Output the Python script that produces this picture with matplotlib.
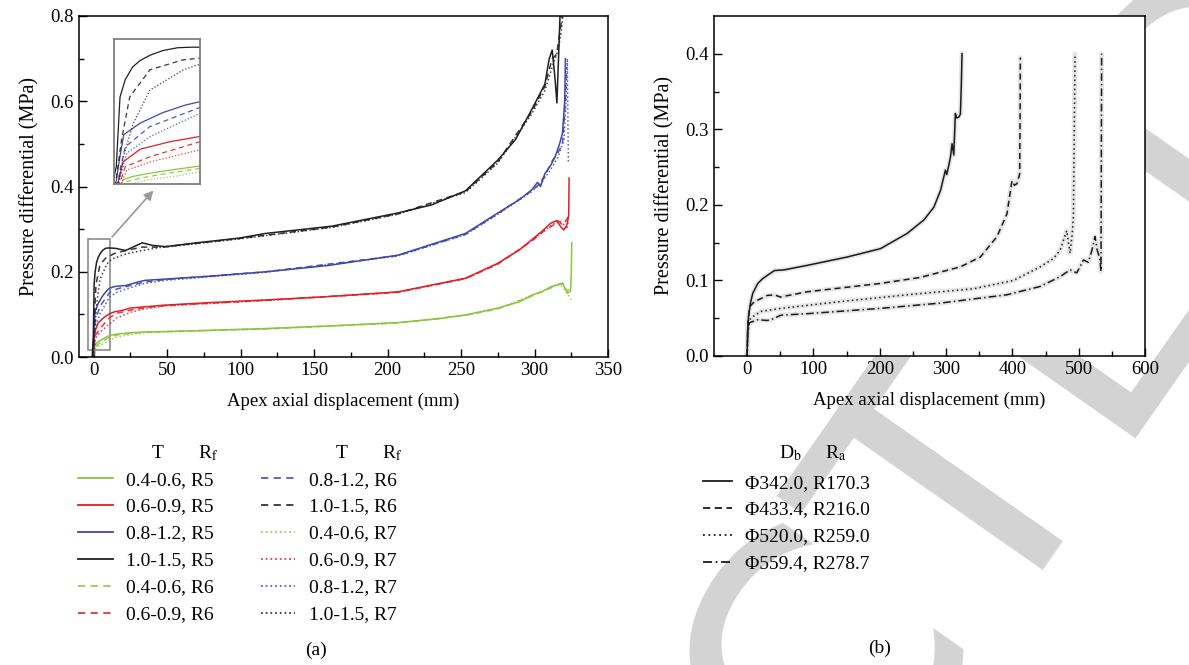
import matplotlib
matplotlib.use("Agg")
import matplotlib.pyplot as plt
from matplotlib.lines import Line2D
from matplotlib.patches import Rectangle

plt.rcParams['font.family'] = ['Liberation Serif', 'DejaVu Serif']
plt.rcParams['font.size'] = 13
plt.rcParams['mathtext.fontset'] = 'stix'

## DADOS (a) ##
green_r5_x = [-0.5, 0.2, 0.7, 2, 4, 7, 11, 16, 25, 35, 50, 80, 117, 160, 207, 235, 253, 275, 290, 298, 306, 311, 316, 319, 321, 322.5, 324.5, 325, 325.3]
green_r5_y = [0, 0.012, 0.027, 0.033, 0.038, 0.044, 0.051, 0.054, 0.057, 0.059, 0.06, 0.063, 0.067, 0.073, 0.081, 0.09, 0.099, 0.115, 0.13, 0.145, 0.155, 0.165, 0.17, 0.174, 0.16, 0.15, 0.155, 0.2, 0.268]
green_r6_x = [-0.3, 0.4, 1.2, 3, 6, 11, 16, 25, 35, 50, 117, 207, 253, 275, 298, 311, 318, 320, 322, 324, 325]
green_r6_y = [0, 0.012, 0.024, 0.03, 0.037, 0.047, 0.052, 0.056, 0.058, 0.06, 0.066, 0.08, 0.098, 0.113, 0.143, 0.162, 0.172, 0.165, 0.155, 0.16, 0.17]
green_r7_x = [-0.2, 0.6, 1.5, 4, 8, 11, 16, 25, 35, 50, 117, 207, 253, 275, 298, 311, 317, 320, 322, 324, 325]
green_r7_y = [0, 0.01, 0.02, 0.027, 0.034, 0.041, 0.047, 0.053, 0.057, 0.059, 0.066, 0.08, 0.098, 0.114, 0.144, 0.163, 0.172, 0.16, 0.15, 0.14, 0.134]

red_r5_x = [-0.5, 0.2, 0.7, 3, 7, 11, 14, 20, 25, 35, 49, 80, 117, 160, 207, 253, 275, 290, 298, 305, 311, 315, 318, 320, 322, 323.2, 323.5]
red_r5_y = [0, 0.03, 0.058, 0.08, 0.093, 0.102, 0.106, 0.11, 0.115, 0.118, 0.122, 0.128, 0.134, 0.142, 0.153, 0.185, 0.22, 0.252, 0.275, 0.295, 0.314, 0.32, 0.305, 0.298, 0.31, 0.33, 0.42]
red_r6_x = [-0.3, 0.5, 1, 4.3, 11, 16, 25, 35, 49, 117, 207, 253, 275, 298, 308, 313, 316, 319, 321, 323]
red_r6_y = [0, 0.03, 0.05, 0.067, 0.093, 0.103, 0.11, 0.116, 0.121, 0.133, 0.152, 0.184, 0.218, 0.272, 0.3, 0.31, 0.32, 0.31, 0.318, 0.33]
red_r7_x = [-0.2, 0.6, 1.2, 4.3, 11, 16, 25, 35, 49, 117, 207, 253, 275, 298, 308, 314, 317, 320, 322, 323]
red_r7_y = [0, 0.025, 0.044, 0.058, 0.079, 0.092, 0.105, 0.113, 0.12, 0.133, 0.152, 0.184, 0.219, 0.273, 0.3, 0.315, 0.32, 0.31, 0.3, 0.32]

blue_r5_x = [-0.5, 0.2, 0.8, 3, 6, 9, 11, 15, 22, 30, 35, 49, 80, 117, 160, 207, 253, 275, 290, 298, 302, 304, 307, 311, 314, 317, 319, 320.5, 321]
blue_r5_y = [0, 0.06, 0.105, 0.125, 0.143, 0.156, 0.162, 0.166, 0.168, 0.176, 0.18, 0.183, 0.19, 0.2, 0.215, 0.239, 0.29, 0.338, 0.37, 0.392, 0.41, 0.4, 0.43, 0.45, 0.47, 0.5, 0.525, 0.6, 0.70]
blue_r6_x = [-0.3, 0.4, 1, 4.3, 11, 16, 25, 35, 49, 117, 207, 253, 275, 298, 303, 307, 312, 316, 319, 321, 321.5]
blue_r6_y = [0, 0.05, 0.084, 0.119, 0.152, 0.16, 0.168, 0.176, 0.182, 0.2, 0.238, 0.288, 0.336, 0.39, 0.405, 0.425, 0.46, 0.48, 0.5, 0.6, 0.68]
blue_r7_x = [-0.2, 0.5, 1.2, 4.3, 11, 16, 25, 35, 49, 117, 207, 253, 275, 298, 305, 311, 316, 320, 321.5, 322.3, 323]
blue_r7_y = [0, 0.04, 0.073, 0.1015, 0.142, 0.152, 0.163, 0.173, 0.18, 0.199, 0.237, 0.287, 0.335, 0.388, 0.41, 0.44, 0.47, 0.51, 0.6, 0.7, 0.455]

black_r5_x = [-1, -0.2, 0.3, 1, 2, 3, 4.3, 6, 8, 10, 15, 21.7, 28, 33, 40, 49, 70, 98.8, 117, 162, 207, 230, 253, 275, 287, 298, 307, 310, 312, 314, 315.2, 316.5, 317.5]
black_r5_y = [0, 0.05, 0.17, 0.2, 0.222, 0.233, 0.242, 0.25, 0.255, 0.256, 0.255, 0.25, 0.26, 0.268, 0.262, 0.259, 0.268, 0.279, 0.29, 0.307, 0.338, 0.357, 0.39, 0.462, 0.51, 0.58, 0.64, 0.70, 0.72, 0.65, 0.596, 0.72, 0.82]
black_r6_x = [-0.5, 0.5, 1.6, 4.3, 8.7, 11, 14, 22, 33, 45, 49, 98.8, 162, 207, 253, 275, 298, 307, 312, 315, 318, 319.5]
black_r6_y = [0, 0.096, 0.17, 0.217, 0.234, 0.237, 0.243, 0.25, 0.258, 0.258, 0.259, 0.278, 0.305, 0.336, 0.388, 0.458, 0.575, 0.635, 0.7, 0.71, 0.78, 0.82]
black_r7_x = [-0.3, 0.8, 2.1, 4.3, 8.8, 10.6, 14, 22, 33, 45, 49, 98.8, 162, 207, 253, 275, 298, 307, 312, 316, 318, 320]
black_r7_y = [0, 0.07, 0.125, 0.182, 0.217, 0.225, 0.232, 0.242, 0.25, 0.257, 0.258, 0.277, 0.304, 0.335, 0.386, 0.455, 0.57, 0.625, 0.68, 0.72, 0.76, 0.82]

t_labels = ['0.4-0.6', '0.6-0.9', '0.8-1.2', '1.0-1.5']
rf_labels = ['R5', 'R6', 'R7']

## DADOS (b) ##
d342_x = [0, 0.5, 2, 5, 8.5, 16, 23, 31, 41, 56, 91, 151, 201, 241, 266.5, 281.6, 291.6, 299, 301, 303.5, 306.6, 309, 311.6, 314, 316, 319, 321.6, 323, 324]
d342_y = [0, 0.03, 0.052, 0.07, 0.083, 0.096, 0.102, 0.107, 0.113, 0.114, 0.12, 0.131, 0.142, 0.162, 0.18, 0.197, 0.219, 0.246, 0.24, 0.25, 0.263, 0.281, 0.266, 0.321, 0.315, 0.316, 0.32, 0.36, 0.40]
d433_x = [0, 1, 3.5, 11, 21, 30, 41, 50, 91, 151, 201, 261.5, 321.6, 351.7, 376.8, 391.8, 399.4, 403, 406.9, 411, 411.5, 412]
d433_y = [0, 0.04, 0.065, 0.072, 0.076, 0.08, 0.081, 0.078, 0.085, 0.091, 0.096, 0.104, 0.118, 0.131, 0.158, 0.188, 0.232, 0.226, 0.228, 0.241, 0.3, 0.395]
d520_x = [0, 1, 3.5, 10, 21, 51, 141, 241.5, 341.7, 401.8, 442, 462, 472, 477, 482, 484.5, 487, 490, 492, 494.5]
d520_y = [0, 0.03, 0.048, 0.053, 0.059, 0.063, 0.072, 0.081, 0.089, 0.10, 0.118, 0.129, 0.14, 0.153, 0.166, 0.15, 0.136, 0.16, 0.184, 0.40]
d559_x = [0, 1, 3.5, 16, 30, 36, 51, 91, 201, 291.6, 391.8, 442, 472, 487, 497, 502, 507, 514.5, 520, 524.6, 528, 532, 533.6, 534.6]
d559_y = [0, 0.03, 0.044, 0.048, 0.047, 0.048, 0.054, 0.056, 0.063, 0.070, 0.081, 0.092, 0.105, 0.114, 0.11, 0.118, 0.127, 0.124, 0.14, 0.158, 0.14, 0.128, 0.112, 0.40]
b_labels = ['Φ342.0, R170.3', 'Φ433.4, R216.0', 'Φ520.0, R259.0', 'Φ559.4, R278.7']

colors = ['#8cc63e', '#e21f26', '#3f48a9', '#231f20']
styles = ['-', (0, (4, 3)), (0, (1, 1.6))]
alphas = [1.0, 0.9, 0.85]

series_a = [
    [(green_r5_x, green_r5_y), (green_r6_x, green_r6_y), (green_r7_x, green_r7_y)],
    [(red_r5_x, red_r5_y), (red_r6_x, red_r6_y), (red_r7_x, red_r7_y)],
    [(blue_r5_x, blue_r5_y), (blue_r6_x, blue_r6_y), (blue_r7_x, blue_r7_y)],
    [(black_r5_x, black_r5_y), (black_r6_x, black_r6_y), (black_r7_x, black_r7_y)],
]
series_b = [(d342_x, d342_y), (d433_x, d433_y), (d520_x, d520_y), (d559_x, d559_y)]
styles_b = ['-', (0, (4, 2.5)), (0, (1, 2)), (0, (5, 2, 1, 2))]

fig = plt.figure(figsize=(11.89, 6.65), dpi=100)

# marca d'agua ao fundo
fig.text(0.587, -0.267, 'RETRACTED', fontsize=256, rotation=55, color='#d3d3d3',
         ha='center', va='center', family='DejaVu Sans', zorder=-10)

## PAINEL (a) ##
ax1 = fig.add_axes([0.0664, 0.463, 0.445, 0.513])
for i, group in enumerate(series_a):
    for j, (xs, ys) in enumerate(group):
        ax1.plot(xs, ys, color=colors[i], ls=styles[j], lw=1.1, alpha=alphas[j])
ax1.set_xlim(-10, 350)
ax1.set_ylim(0, 0.8)
ax1.set_xticks(range(0, 351, 50))
ax1.set_xticks(range(25, 350, 50), minor=True)
ax1.set_yticks([0, 0.2, 0.4, 0.6, 0.8])
ax1.set_yticks([0.1, 0.3, 0.5, 0.7], minor=True)
ax1.set_yticklabels(['0.0', '0.2', '0.4', '0.6', '0.8'])
ax1.set_xlabel('Apex axial displacement (mm)', labelpad=10, fontsize=13.5)
ax1.set_ylabel('Pressure differential (MPa)', labelpad=8, fontsize=14.5)

ax1.add_patch(Rectangle((-3.8, 0.016), 15.1, 0.261, fill=False, ec='#8c8c8c', lw=1.2))

axins = fig.add_axes([0.0959, 0.7233, 0.0723, 0.218])
for i, group in enumerate(series_a):
    for j, (xs, ys) in enumerate(group):
        axins.plot(xs, ys, color=colors[i], ls=styles[j], lw=0.9, alpha=alphas[j])
axins.set_xlim(-0.5, 11)
axins.set_ylim(0.02, 0.27)
axins.set_xticks([])
axins.set_yticks([])
for s in axins.spines.values():
    s.set_color('#7f7f7f')
    s.set_linewidth(1.3)

ax1.annotate('', xy=(0.48, -0.03), xycoords=axins.transAxes,
             xytext=(11.3, 0.277), textcoords='data',
             arrowprops=dict(arrowstyle='-|>', color='#999999', lw=1.2, mutation_scale=14))

## PAINEL (b) ##
ax2 = fig.add_axes([0.6005, 0.4647, 0.3625, 0.5113])
for k, (xs, ys) in enumerate(series_b):
    ax2.plot(xs, ys, color='#e6e6e6', lw=3.5, solid_capstyle='round')
for k, (xs, ys) in enumerate(series_b):
    ax2.plot(xs, ys, color='#1a1a1a', ls=styles_b[k], lw=1.1)
ax2.set_xlim(-50, 600)
ax2.set_ylim(0, 0.45)
ax2.set_xticks(range(0, 601, 100))
ax2.set_xticks(range(50, 600, 100), minor=True)
ax2.set_yticks([0, 0.1, 0.2, 0.3, 0.4])
ax2.set_yticks([0.05, 0.15, 0.25, 0.35], minor=True)
ax2.set_xlabel('Apex axial displacement (mm)', labelpad=10, fontsize=13.5)
ax2.set_ylabel('Pressure differential (MPa)', labelpad=8, fontsize=14.5)

for ax in (ax1, ax2):
    ax.tick_params(which='both', direction='in', top=False, right=False, labelsize=13.5)
    ax.tick_params(which='major', length=6, width=1)
    ax.tick_params(which='minor', length=3.5, width=1)
    for s in ax.spines.values():
        s.set_linewidth(1.1)

## LEGENDAS ##
handles_a = []
labels_a = []
for j in range(3):
    for i in range(4):
        handles_a.append(Line2D([], [], color=colors[i], ls=styles[j], lw=1.3, alpha=alphas[j]))
        labels_a.append(f'{t_labels[i]}, {rf_labels[j]}')

leg_kw = dict(frameon=False, handlelength=1.75, handletextpad=0.7, labelspacing=0.48,
              borderpad=0, borderaxespad=0, loc='upper left', fontsize=14)
leg1 = fig.legend(handles_a[:6], labels_a[:6], bbox_to_anchor=(0.066, 1 - 471 / 665), **leg_kw)
leg2 = fig.legend(handles_a[6:], labels_a[6:], bbox_to_anchor=(0.2195, 1 - 471 / 665), **leg_kw)

handles_b = [Line2D([], [], color='#1a1a1a', ls=styles_b[k], lw=1.3) for k in range(4)]
leg3 = fig.legend(handles_b, b_labels, bbox_to_anchor=(0.591, 1 - 474 / 665),
                  **dict(leg_kw, handlelength=1.5))

fig.text(158 / 1189, 1 - 453 / 665, 'T', ha='center', va='center', fontsize=14)
fig.text(208 / 1189, 1 - 453 / 665, r'R$_\mathrm{f}$', ha='center', va='center', fontsize=14)
fig.text(342 / 1189, 1 - 453 / 665, 'T', ha='center', va='center', fontsize=14)
fig.text(392 / 1189, 1 - 453 / 665, r'R$_\mathrm{f}$', ha='center', va='center', fontsize=14)
fig.text(790 / 1189, 1 - 453 / 665, r'D$_\mathrm{b}$', ha='center', va='center', fontsize=14)
fig.text(836 / 1189, 1 - 453 / 665, r'R$_\mathrm{a}$', ha='center', va='center', fontsize=14)

fig.text(316 / 1189, 1 - 650 / 665, '(a)', ha='center', va='center', fontsize=14)
fig.text(880 / 1189, 1 - 648 / 665, '(b)', ha='center', va='center', fontsize=14)

fig.savefig('out.png', dpi=100)
